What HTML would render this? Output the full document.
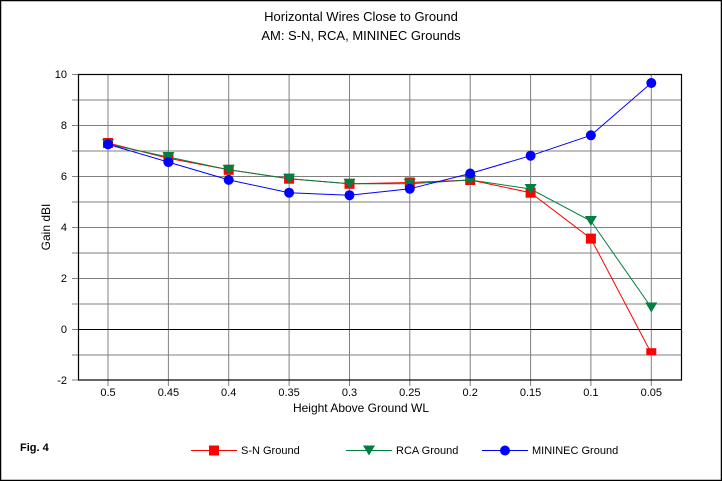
<!DOCTYPE html>
<html><head><style>
body{margin:0;background:#fff;}
svg{display:block;font-family:"Liberation Sans",Arial,sans-serif;}
</style></head><body>
<svg width="722" height="481" viewBox="0 0 722 481">
<rect x="0.5" y="0.5" width="721" height="480" fill="#fff" stroke="#000" stroke-width="1.5"/>
<text x="361" y="21" font-size="13" text-anchor="middle">Horizontal Wires Close to Ground</text>
<text x="361" y="40" font-size="13" text-anchor="middle">AM: S-N, RCA, MININEC Grounds</text>
<g stroke="#808080" stroke-width="1">
<line x1="72" x2="682" y1="100" y2="100"/><line x1="72" x2="682" y1="125.5" y2="125.5"/>
<line x1="72" x2="682" y1="151" y2="151"/><line x1="72" x2="682" y1="176.5" y2="176.5"/>
<line x1="72" x2="682" y1="202" y2="202"/><line x1="72" x2="682" y1="227.5" y2="227.5"/>
<line x1="72" x2="682" y1="253" y2="253"/><line x1="72" x2="682" y1="278.5" y2="278.5"/>
<line x1="72" x2="682" y1="304" y2="304"/><line x1="72" x2="682" y1="355" y2="355"/>
<line x1="72" x2="78" y1="74.5" y2="74.5"/><line x1="72" x2="78" y1="329.5" y2="329.5"/><line x1="72" x2="78" y1="380" y2="380"/>
<line x1="108" x2="108" y1="74" y2="386"/><line x1="168.4" x2="168.4" y1="74" y2="386"/>
<line x1="228.7" x2="228.7" y1="74" y2="386"/><line x1="289.1" x2="289.1" y1="74" y2="386"/>
<line x1="349.5" x2="349.5" y1="74" y2="386"/><line x1="409.8" x2="409.8" y1="74" y2="386"/>
<line x1="470.2" x2="470.2" y1="74" y2="386"/><line x1="530.6" x2="530.6" y1="74" y2="386"/>
<line x1="590.9" x2="590.9" y1="74" y2="386"/><line x1="651.3" x2="651.3" y1="74" y2="386"/>
</g>
<line x1="78" x2="682" y1="329.5" y2="329.5" stroke="#000"/>
<rect x="78.5" y="74.5" width="603" height="305.5" fill="none" stroke="#000" stroke-width="1.2"/>
<g font-size="11" text-anchor="end">
<text x="67" y="78">10</text><text x="67" y="129">8</text><text x="67" y="180">6</text>
<text x="67" y="231">4</text><text x="67" y="282">2</text><text x="67" y="333">0</text><text x="67" y="384">-2</text>
</g>
<g font-size="11" text-anchor="middle">
<text x="108" y="396">0.5</text><text x="168.4" y="396">0.45</text><text x="228.7" y="396">0.4</text>
<text x="289.1" y="396">0.35</text><text x="349.5" y="396">0.3</text><text x="409.8" y="396">0.25</text>
<text x="470.2" y="396">0.2</text><text x="530.6" y="396">0.15</text><text x="590.9" y="396">0.1</text>
<text x="651.3" y="396">0.05</text>
</g>
<text x="361" y="412" font-size="12" text-anchor="middle">Height Above Ground WL</text>
<text x="50" y="227" font-size="12" text-anchor="middle" transform="rotate(-90 50 227)">Gain dBI</text>
<text x="20" y="451" font-size="11" font-weight="bold">Fig. 4</text>
<!-- S-N -->
<polyline fill="none" stroke="#f00" points="108,143 168.4,158.3 228.7,169.8 289.1,178.7 349.5,183.8 409.8,182.5 470.2,180 530.6,192.7 590.9,238.6 651.3,353.2"/>
<g fill="#f00">
<rect x="103" y="138" width="10" height="10"/><rect x="163.4" y="153.3" width="10" height="10"/><rect x="223.7" y="164.8" width="10" height="10"/><rect x="284.1" y="173.7" width="10" height="10"/><rect x="344.5" y="178.8" width="10" height="10"/><rect x="404.8" y="177.5" width="10" height="10"/><rect x="465.2" y="175" width="10" height="10"/><rect x="525.6" y="187.7" width="10" height="10"/><rect x="585.9" y="233.6" width="10" height="10"/><rect x="646.3" y="348.2" width="10" height="7"/>
</g>
<!-- RCA -->
<polyline fill="none" stroke="#008040" points="108,144.3 168.4,157 228.7,169.8 289.1,178.7 349.5,183.8 409.8,183.8 470.2,180 530.6,189 590.9,221 651.3,307.5"/>
<g fill="#008040">
<polygon points="102,139.3 114,139.3 108,149.3"/><polygon points="162.4,152 174.4,152 168.4,162"/><polygon points="222.7,164.8 234.7,164.8 228.7,174.8"/><polygon points="283.1,173.7 295.1,173.7 289.1,183.7"/><polygon points="343.5,178.8 355.5,178.8 349.5,188.8"/><polygon points="403.8,178.8 415.8,178.8 409.8,188.8"/><polygon points="464.2,175 476.2,175 470.2,185"/><polygon points="524.6,184 536.6,184 530.6,194"/><polygon points="584.9,216 596.9,216 590.9,226"/><polygon points="645.3,302.5 657.3,302.5 651.3,312.5"/>
</g>
<!-- MININEC -->
<polyline fill="none" stroke="#00f" points="108,144.3 168.4,162.1 228.7,179.9 289.1,192.7 349.5,195.2 409.8,188.8 470.2,173.5 530.6,155.7 590.9,135.3 651.3,83"/>
<g fill="#00f">
<circle cx="108" cy="144.3" r="5"/><circle cx="168.4" cy="162.1" r="5"/><circle cx="228.7" cy="179.9" r="5"/><circle cx="289.1" cy="192.7" r="5"/><circle cx="349.5" cy="195.2" r="5"/><circle cx="409.8" cy="188.8" r="5"/><circle cx="470.2" cy="173.5" r="5"/><circle cx="530.6" cy="155.7" r="5"/><circle cx="590.9" cy="135.3" r="5"/><circle cx="651.3" cy="83" r="5"/>
</g>
<!-- legend -->
<line x1="191" x2="237" y1="450.5" y2="450.5" stroke="#f00"/><rect x="209" y="445.5" width="10" height="10" fill="#f00"/>
<text x="241" y="454" font-size="11">S-N Ground</text>
<line x1="346" x2="392" y1="450.5" y2="450.5" stroke="#008040"/><polygon points="363,445.5 375,445.5 369,455.5" fill="#008040"/>
<text x="396" y="454" font-size="11">RCA Ground</text>
<line x1="482" x2="528" y1="450.5" y2="450.5" stroke="#00f"/><circle cx="505" cy="450.5" r="5" fill="#00f"/>
<text x="532" y="454" font-size="11">MININEC Ground</text>
</svg>
</body></html>
